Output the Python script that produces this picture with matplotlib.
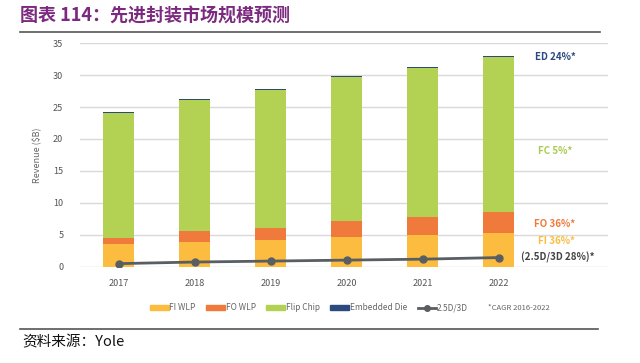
import matplotlib
matplotlib.use("Agg")
import matplotlib.pyplot as plt
from matplotlib.lines import Line2D
from matplotlib.patches import Patch
import numpy as np

plt.rcParams['font.family'] = ['Noto Sans CJK SC', 'DejaVu Sans']

years = ["2017", "2018", "2019", "2020", "2021", "2022"]
fi_wlp = [3.6, 3.9, 4.2, 4.6, 5.0, 5.3]
fo_wlp = [0.85, 1.7, 1.9, 2.5, 2.7, 3.2]
flip_chip = [19.6, 20.5, 21.6, 22.6, 23.4, 24.4]
embedded_die = [0.1, 0.12, 0.12, 0.14, 0.15, 0.18]
d25_3d = [0.45, 0.7, 0.85, 1.0, 1.15, 1.4]

c_fi = "#FBBC3F"
c_fo = "#F07A3C"
c_fc = "#B3D153"
c_ed = "#2B4A7E"
c_line = "#595E63"

fig = plt.figure(figsize=(6.4, 3.63), dpi=100)
ax = fig.add_axes([80/640, 1-266.5/363, (608-80)/640, (266.5-43.3)/363])

x = np.arange(len(years))
w = 0.41
b1 = np.array(fi_wlp)
b2 = b1 + np.array(fo_wlp)
b3 = b2 + np.array(flip_chip)
ax.bar(x, fi_wlp, w, color=c_fi, zorder=2)
ax.bar(x, fo_wlp, w, bottom=b1, color=c_fo, zorder=2)
ax.bar(x, flip_chip, w, bottom=b2, color=c_fc, zorder=2)
ax.bar(x, embedded_die, w, bottom=b3, color=c_ed, zorder=2)
ax.plot(x, d25_3d, color=c_line, lw=2, marker='o', ms=5, zorder=3)

ax.set_xlim(-0.51, 6.44)
ax.set_ylim(0, 35)
ax.set_yticks(range(0, 36, 5))
ax.set_xticks(x)
ax.set_xticklabels(years)
ax.tick_params(axis='both', length=0, labelsize=6.5, colors="#555555")
ax.tick_params(axis='y', pad=12)
ax.tick_params(axis='x', pad=9)
for s in ax.spines.values():
    s.set_visible(False)
ax.grid(axis='y', color="#d9d9d9", lw=1, zorder=0)
ax.set_axisbelow(True)
ax.set_ylabel("Revenue ($B)", fontsize=6.5, color="#666666", labelpad=8)

# annotations
ann = [("ED 24%*", 32.9, c_ed, 5.48), ("FC 5%*", 18.1, "#A9CC50", 5.52),
       ("FO 36%*", 6.6, c_fo, 5.47), ("FI 36%*", 4.0, c_fi, 5.52),
       ("(2.5D/3D 28%)*", 1.45, "#444444", 5.29)]
for t, yv, c, xv in ann:
    ax.text(xv, yv, t, color=c, fontsize=7, fontweight='bold', ha='left', va='center')

# legend
handles = [Patch(color=c_fi, label="FI WLP"), Patch(color=c_fo, label="FO WLP"),
           Patch(color=c_fc, label="Flip Chip"), Patch(color=c_ed, label="Embedded Die"),
           Line2D([0], [0], color=c_line, lw=2, marker='o', ms=4, label="2.5D/3D")]
leg = fig.legend(handles=handles, loc='center', bbox_to_anchor=(309/640, 1-308/363), ncol=5,
                 frameon=False, fontsize=6, handlelength=2.2, handleheight=0.5, columnspacing=1.3,
                 handletextpad=0.1, labelcolor="#666666")
fig.text(488/640, 1-308/363, "*CAGR 2016-2022", fontsize=5.5, color="#666666", va='center')

# title and frame lines
fig.text(20/640, 1-16/363, "图表 114：先进封装市场规模预测", fontsize=13, fontweight='bold',
         color="#7B2A7F", va='center')
fig.add_artist(Line2D([20/640, 600/640], [1-31.5/363, 1-31.5/363], color="#555555", lw=1.2))
fig.add_artist(Line2D([20/640, 598/640], [1-329/363, 1-329/363], color="#555555", lw=1.2))
fig.text(22/640, 1-342/363, "资料来源：Yole", fontsize=10.5, color="#111111", va='center')

fig.savefig("out.png", dpi=100)
